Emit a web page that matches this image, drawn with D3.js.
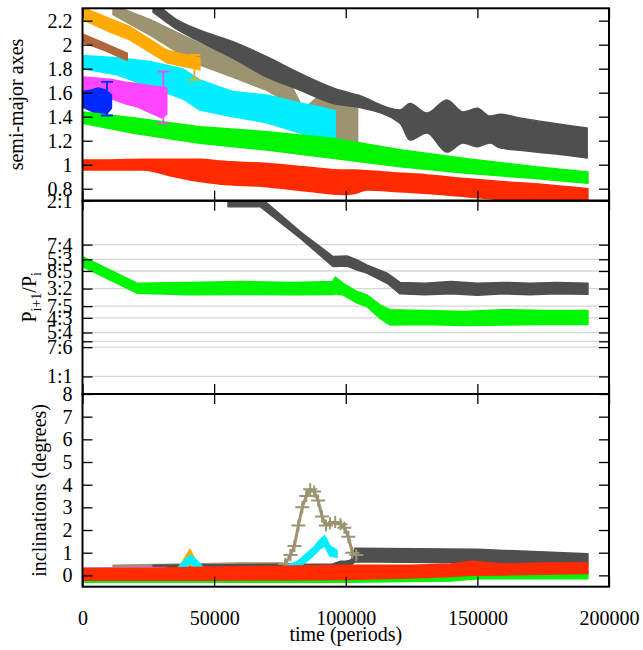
<!DOCTYPE html>
<html><head><meta charset="utf-8">
<script src="https://cdn.jsdelivr.net/npm/d3@7"></script>
<style>
body{margin:0;background:#fff}
svg{display:block}
text{font-family:"Liberation Serif","Times New Roman",serif;font-size:20px;fill:#000}
</style>
</head><body><svg id="c" width="643" height="650"></svg>
<script>
// ---------- tick definitions ----------
const timeTicks = [0, 50000, 100000, 150000, 200000];
const axesTicks = [0.8, 1, 1.2, 1.4, 1.6, 1.8, 2, 2.2];
const ratioTicks = [2, 7/4, 5/3, 8/5, 3/2, 7/5, 4/3, 5/4, 6/5, 7/6, 1];
const ratioLabels = ["2:1","7:4","5:3","8:5","3:2","7:5","4:3","5:4","","7:6","1:1"];
const inclTicks = [0, 1, 2, 3, 4, 5, 6, 7, 8];

// ---------- colours ----------
const colRed = "#ff2a00", colGreen = "#00f500", colBlue = "#0028ff", colMagenta = "#ff45ff",
      colCyan = "#00eeff", colBrown = "#b0653c", colOrange = "#ffaa00", colKhaki = "#9c9370", colGray = "#4f4f4f";

// ---------- semi-major axes (band: low / high edge) ----------
const axRed = { t:[0,10000,23000,35000,44600,52000,70000,85000,99700,104000,108000,120000,131000,145000,159000,175000,192000],
  hi:[1.04,1.04,1.045,1.045,1.045,1.03,1.01,0.98,0.955,0.955,0.95,0.93,0.915,0.885,0.86,0.835,0.80],
  lo:[0.955,0.955,0.955,0.90,0.86,0.84,0.817,0.78,0.752,0.765,0.79,0.775,0.76,0.735,0.71,0.69,0.68] };
const axGreen = { t:[0,20000,44600,70000,95000,120600,146000,171000,192000],
  hi:[1.44,1.39,1.317,1.275,1.22,1.125,1.05,0.985,0.94],
  lo:[1.345,1.26,1.178,1.122,1.053,0.983,0.928,0.887,0.845] };
const axBlue = { t:[0,3000,6000,9000,11000], hi:[1.61,1.62,1.64,1.62,1.58], lo:[1.48,1.45,1.41,1.42,1.47] };
const axMagenta = { t:[0,6000,11000,16000,21000,25000,30000,32000],
  hi:[1.73,1.72,1.71,1.69,1.675,1.66,1.645,1.64], lo:[1.60,1.58,1.55,1.51,1.48,1.44,1.39,1.42] };
const axCyan = { t:[0,13000,25600,38000,44600,57000,70000,82700,90000,96000],
  hi:[1.91,1.89,1.86,1.80,1.706,1.61,1.58,1.514,1.48,1.45],
  lo:[1.80,1.75,1.65,1.55,1.455,1.40,1.35,1.264,1.23,1.21] };
const axOrange = { t:[0,10000,18000,32000,38000,44600], hi:[2.31,2.22,2.15,1.955,1.92,1.89], lo:[2.21,2.11,2.04,1.85,1.82,1.79] };
const axBrown = { t:[0,8500,17000], hi:[2.09,2.01,1.93], lo:[2.02,1.95,1.87] };
const axKhaki = { t:[11600,25600,38000,44600,57000,70000,78000,84000,89000,104500],
  hi:[2.33,2.21,2.08,2.01,1.90,1.79,1.72,1.46,1.56,1.56],
  lo:[2.25,2.08,1.91,1.83,1.73,1.62,1.52,1.23,1.15,1.15] };
const axGray = { t:[26800,35000,44600,57200,70000,82700,95200,104600,120600,124400,130800,138400,144600,149900,154800,158600,166200,175700,183300,191700],
  hi:[2.37,2.22,2.12,2.025,1.90,1.76,1.64,1.58,1.456,1.51,1.43,1.54,1.44,1.47,1.405,1.42,1.39,1.355,1.33,1.305],
  lo:[2.27,2.14,2.025,1.887,1.73,1.62,1.51,1.48,1.347,1.205,1.264,1.105,1.18,1.15,1.18,1.14,1.12,1.097,1.08,1.055] };
// error bars in the top panel
const errT = [9300, 30700, 42500];
const errLo = [1.41, 1.345, 1.706];
const errHi = [1.69, 1.775, 1.914];
const errCol = [colBlue, colMagenta, colOrange];

// ---------- period ratios ----------
const prGray = { t:[55300,67500,82700,95200,100500,104300,108000,115700,120600,130000,140000,150000,160000,170000,180000,192000],
  hi:[2.03,2.02,1.824,1.682,1.685,1.663,1.635,1.588,1.535,1.53,1.54,1.53,1.535,1.53,1.535,1.53],
  lo:[1.965,1.966,1.787,1.625,1.628,1.606,1.588,1.53,1.47,1.465,1.47,1.462,1.47,1.465,1.47,1.468] };
const prGreen = { t:[0,20700,40000,60000,80000,95000,96000,99000,104300,108000,113000,116800,130000,145000,160000,175000,192000],
  hi:[1.682,1.53,1.535,1.54,1.535,1.54,1.565,1.53,1.483,1.464,1.407,1.38,1.375,1.37,1.38,1.375,1.375],
  lo:[1.625,1.474,1.465,1.466,1.465,1.466,1.47,1.464,1.417,1.398,1.33,1.293,1.295,1.29,1.293,1.295,1.295] };

// ---------- inclinations ----------
const inRed = { t:[0,25000,50000,75000,100000,125000,140000,148000,160000,175000,192000],
  hi:[0.3,0.3,0.37,0.4,0.45,0.45,0.5,0.62,0.5,0.55,0.55], lo:[-0.22,-0.22,-0.22,-0.2,-0.18,-0.12,-0.05,0.0,0.02,0.05,0.08] };
const inGreen = { t:[0,50000,100000,140000,150000,192000], hi:[0.0,0.0,0.05,0.1,0.2,0.2], lo:[-0.3,-0.3,-0.3,-0.25,-0.15,-0.15] };
const inGray = { t:[26800,95000,98000,100000,102000,103500,150000,192000],
  hi:[0.45,0.5,0.62,0.62,0.68,1.2,1.15,0.95], lo:[0.33,0.38,0.42,0.42,0.45,0.6,0.55,0.5] };
const inKhaki = { t:[11600,40000,60000,76000], hi:[0.45,0.5,0.55,0.55], lo:[0.25,0.3,0.33,0.33] };
const peakKhakiT = [77000,79000,80500,82000,83500,85000,86500,88000,89500,91000,92500,94000,96000,98000,99500,101000,102500,104000];
const peakKhakiI = [0.5,0.9,1.3,2.2,3.0,3.5,3.8,3.7,3.3,2.6,2.2,2.3,2.35,2.25,2.1,1.7,1.0,0.9];
const inCyan = { t:[0,36000,39000,41000,43000,46000,75000,81500,85000,88000,90000,92000,94000,96700],
  hi:[0.25,0.3,0.7,0.9,0.7,0.35,0.35,0.6,0.95,1.25,1.55,1.75,1.3,1.1],
  lo:[-0.05,0.0,0.3,0.55,0.3,0.05,0.1,0.3,0.6,0.9,1.15,1.3,0.85,0.8] };
const inOrange = { t:[0,36500,39000,40800,42500,45000], hi:[0.25,0.3,0.8,1.15,0.75,0.35], lo:[-0.05,0.0,0.2,0.5,0.2,0.05] };
const inBlue = { t:[0,11000], hi:[0.3,0.3], lo:[0,0] };
const inMagenta = { t:[0,32000], hi:[0.3,0.35], lo:[0,0] };
const inBrown = { t:[0,17000], hi:[0,0], lo:[-0.3,-0.3] };

// ---------- layout ----------
const svg = d3.select("#c");
const FONT = '"Liberation Serif","Times New Roman",serif';
const L = 82.5, R = 609;
const pTop = {top:8.3, bot:200.7}, pMid = {top:200.7, bot:394}, pBot = {top:394, bot:586.7};
const x = d3.scaleLinear().domain([0, 200000]).range([L, R]);
const yA = d3.scaleLinear().domain([0.7, 2.303]).range([pTop.bot, pTop.top]);
const yR = d3.scaleLinear().domain([0.9, 2.0]).range([pMid.bot, pMid.top]);
const yI = d3.scaleLinear().domain([-0.5, 8]).range([pBot.bot, pBot.top]);

const defs = svg.append("defs");
[["cA",pTop],["cR",pMid],["cI",pBot]].forEach(([id,p]) => {
  defs.append("clipPath").attr("id", id).append("rect")
    .attr("x", L).attr("y", p.top).attr("width", R - L).attr("height", p.bot - p.top);
});

// grid lines for ratios (behind data)
svg.append("g").selectAll("line").data(ratioTicks).join("line")
  .attr("x1", L).attr("x2", R).attr("y1", d => yR(d)).attr("y2", d => yR(d))
  .attr("stroke", "#d6d6d6").attr("stroke-width", 1.3);

function band(g, s, y, color, curve) {
  const pts = s.t.map((t, i) => ({t, lo: s.lo[i], hi: s.hi[i]}));
  g.append("path").datum(pts)
    .attr("fill", color).attr("stroke", color).attr("stroke-width", 1.5).attr("stroke-linejoin", "round")
    .attr("d", d3.area().curve(curve || d3.curveLinear).x(d => x(d.t)).y0(d => y(d.lo)).y1(d => y(d.hi)));
}

// top panel
const gA = svg.append("g").attr("clip-path", "url(#cA)");
[[axKhaki,colKhaki],[axGray,colGray,d3.curveMonotoneX],[axOrange,colOrange],[axCyan,colCyan],[axMagenta,colMagenta],
 [axBrown,colBrown],[axBlue,colBlue],[axGreen,colGreen],[axRed,colRed,d3.curveMonotoneX]].forEach(([s,c,cv]) => band(gA, s, yA, c, cv));
errT.forEach((t, i) => {
  const g = gA.append("g").attr("stroke", errCol[i]).attr("stroke-width", 1.8);
  g.append("line").attr("x1", x(t)).attr("x2", x(t)).attr("y1", yA(errLo[i])).attr("y2", yA(errHi[i]));
  g.append("line").attr("x1", x(t) - 6).attr("x2", x(t) + 6).attr("y1", yA(errLo[i])).attr("y2", yA(errLo[i]));
  g.append("line").attr("x1", x(t) - 6).attr("x2", x(t) + 6).attr("y1", yA(errHi[i])).attr("y2", yA(errHi[i]));
});

// middle panel
const gR = svg.append("g").attr("clip-path", "url(#cR)");
[[prGray,colGray],[prGreen,colGreen]].forEach(([s,c]) => band(gR, s, yR, c));

// bottom panel
const gI = svg.append("g").attr("clip-path", "url(#cI)");
[[inKhaki,colKhaki],[inGray,colGray],[inOrange,colOrange]].forEach(([s,c]) => band(gI, s, yI, c));
const peak = peakKhakiT.map((t, i) => ({t, v: peakKhakiI[i]}));
gI.append("path").datum(peak).attr("fill", "none").attr("stroke", colKhaki).attr("stroke-width", 3)
  .attr("d", d3.line().x(d => x(d.t)).y(d => yI(d.v)));
gI.append("g").attr("stroke", colKhaki).attr("stroke-width", 2).selectAll("path").data(peak).join("path")
  .attr("d", d => `M${x(d.t)-7},${yI(d.v)}h14M${x(d.t)},${yI(d.v)-6}v12`);
[[inCyan,colCyan],[inMagenta,colMagenta],[inBrown,colBrown],[inBlue,colBlue],[inGreen,colGreen],[inRed,colRed]]
  .forEach(([s,c]) => band(gI, s, yI, c));

// ---------- axes ----------
function yAxes(y, ticks, labels, p, showTime) {
  const fmt = labels ? ((d, i) => labels[i]) : (d => d3.format("")(d));
  svg.append("g").attr("transform", `translate(${L},0)`)
    .call(d3.axisLeft(y).tickValues(ticks).tickSize(-10).tickPadding(10).tickFormat(fmt));
  svg.append("g").attr("transform", `translate(${R},0)`)
    .call(d3.axisRight(y).tickValues(ticks).tickSize(-10).tickFormat(""));
  svg.append("g").attr("transform", `translate(0,${p.top})`)
    .call(d3.axisTop(x).tickValues(timeTicks).tickSize(-10).tickFormat(""));
  svg.append("g").attr("transform", `translate(0,${p.bot})`)
    .call(d3.axisBottom(x).tickValues(timeTicks).tickSize(-10).tickPadding(24)
      .tickFormat(d => showTime ? String(d) : ""));
}
yAxes(yA, axesTicks, null, pTop, false);
yAxes(yR, ratioTicks, ratioLabels, pMid, false);
yAxes(yI, inclTicks, null, pBot, true);
svg.selectAll(".domain").remove();
svg.selectAll(".tick line").attr("stroke", "#000").attr("stroke-width", 1.3);
svg.selectAll(".tick text").style("font-family", FONT).style("font-size", "20px").attr("fill", "#000");

// frames
[pTop, pMid, pBot].forEach(p => {
  svg.append("rect").attr("x", L).attr("y", p.top).attr("width", R - L).attr("height", p.bot - p.top)
    .attr("fill", "none").attr("stroke", "#000").attr("stroke-width", 2);
});

// axis titles
svg.append("text").attr("transform", `translate(23,${(pTop.top + pTop.bot) / 2}) rotate(-90)`)
  .attr("text-anchor", "middle").text("semi-major axes");
const pl = svg.append("text").attr("transform", `translate(36,${(pMid.top + pMid.bot) / 2}) rotate(-90)`)
  .attr("text-anchor", "middle");
pl.append("tspan").text("P");
pl.append("tspan").style("font-size", "14px").attr("dy", 5).text("i+1");
pl.append("tspan").attr("dy", -5).text("/P");
pl.append("tspan").style("font-size", "14px").attr("dy", 5).text("i");
svg.append("text").attr("transform", `translate(46,${(pBot.top + pBot.bot) / 2}) rotate(-90)`)
  .attr("text-anchor", "middle").text("inclinations (degrees)");
svg.append("text").attr("x", (L + R) / 2).attr("y", 641).attr("text-anchor", "middle").text("time (periods)");
</script></body></html>
